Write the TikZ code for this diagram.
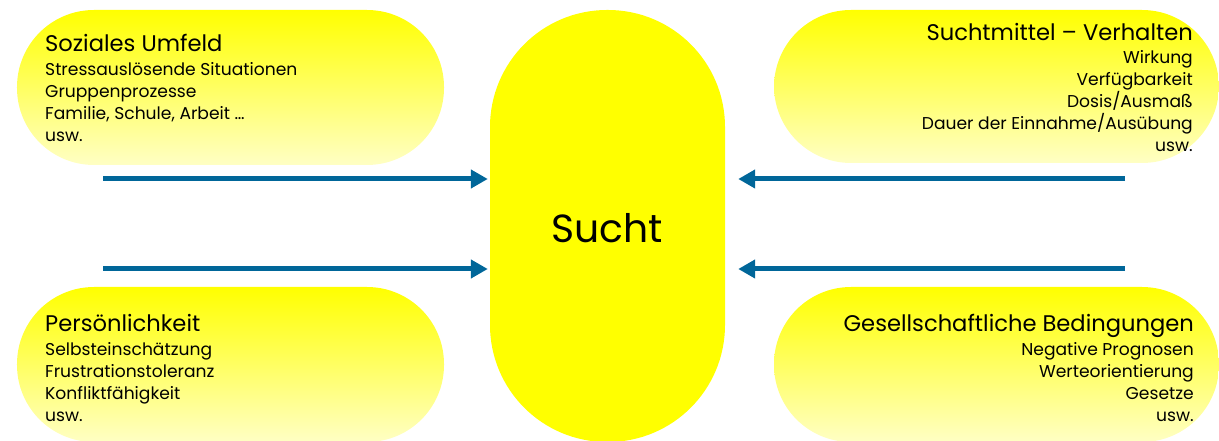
\documentclass[tikz,border=0pt]{standalone}
\usepackage{fontspec}
\setmainfont{Poppins}
\usetikzlibrary{arrows.meta}
\definecolor{arrowblue}{RGB}{0,102,153}
\definecolor{sunyellow}{RGB}{255,255,0}
\definecolor{paleyellow}{RGB}{255,255,196}
\tikzset{
  x=1bp, y=-1bp,
  pill/.style={draw=none, rectangle, rounded corners=#1, inner sep=0pt,
    top color=sunyellow, bottom color=paleyellow},
  core/.style={draw=none, fill=sunyellow, rectangle, rounded corners=117bp,
    inner sep=0pt, minimum width=235bp, minimum height=432bp},
  headtext/.style={inner sep=0pt, font=\fontsize{22.7}{26}\selectfont},
  bodytext/.style={inner sep=0pt, font=\fontsize{17.2}{22.2}\selectfont},
  feed/.style={draw=arrowblue, line width=5bp,
    -{Triangle[length=17bp, width=18bp]}},
}
\begin{document}
\begin{tikzpicture}
\useasboundingbox (0,0) rectangle (1219,441);

% outer factor boxes (shaded stadium shapes)
\node[pill=77bp, minimum width=427bp, minimum height=155bp] (soz) at (230.5,87.5) {};
\node[pill=77bp, minimum width=427bp, minimum height=155bp] (pers) at (230.5,364.5) {};
\node[pill=77bp, minimum width=445bp, minimum height=153bp] (mittel) at (996.5,86.5) {};
\node[pill=77bp, minimum width=445bp, minimum height=155bp] (ges) at (996.5,364.5) {};

% central box
\node[core] (sucht) at (607.5,226) {};
\node[inner sep=0pt, font=\fontsize{39.4}{44}\selectfont, anchor=base] (suchtlabel) at (607,243) {Sucht};

% texts of the factor boxes (body nodes sit on the baseline of their last line)
\node[headtext, anchor=base west] (sozh) at (45,52) {Soziales Umfeld};
\node[bodytext, anchor=base west, align=left] (sozb) at (45,142)
  {Stressauslösende Situationen\\Gruppenprozesse\\Familie, Schule, Arbeit \dots\\usw.};

\node[headtext, anchor=base west] (persh) at (45,332) {Persönlichkeit};
\node[bodytext, anchor=base west, align=left] (persb) at (45,422)
  {Selbsteinschätzung\\Frustrationstoleranz\\Konfliktfähigkeit\\usw.};

\node[headtext, anchor=base east] (mittelh) at (1193,41) {Suchtmittel – Verhalten};
\node[bodytext, anchor=base east, align=right] (mittelb) at (1193,152)
  {Wirkung\\Verfügbarkeit\\Dosis/Ausmaß\\Dauer der Einnahme/Ausübung\\usw.};

\node[headtext, anchor=base east] (gesh) at (1194,332) {Gesellschaftliche Bedingungen};
\node[bodytext, anchor=base east, align=right] (gesb) at (1194,422)
  {Negative Prognosen\\Werteorientierung\\Gesetze\\usw.};

% arrows pointing at the central box
\coordinate (l1) at (103,179);
\coordinate (l2) at (103,269);
\coordinate (r1) at (1125,179);
\coordinate (r2) at (1125,269);
\draw[feed, shorten >=2bp] (l1) -- (l1 -| sucht.west);
\draw[feed, shorten >=2bp] (l2) -- (l2 -| sucht.west);
\draw[feed, shorten >=13bp] (r1) -- (r1 -| sucht.east);
\draw[feed, shorten >=13bp] (r2) -- (r2 -| sucht.east);
\end{tikzpicture}
\end{document}
